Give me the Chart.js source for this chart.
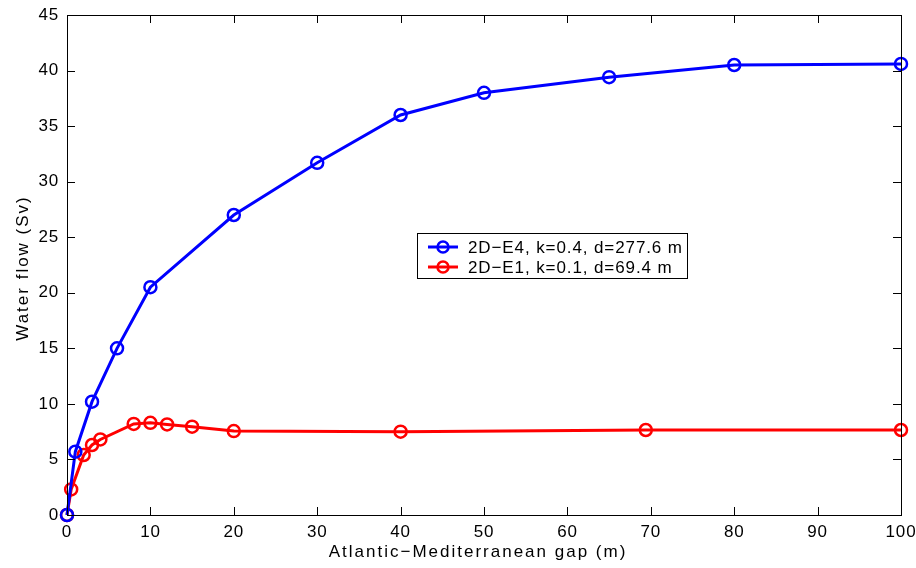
<!DOCTYPE html>
<html>
<head>
<meta charset="utf-8">
<script src="https://cdn.jsdelivr.net/npm/chart.js@4/dist/chart.umd.min.js"></script>
<style>
  html, body { margin: 0; padding: 0; background: #fff; }
  #wrap { width: 916px; height: 568px; }
</style>
</head>
<body>
<div id="wrap"><canvas id="grafico"></canvas></div>
<script>
// dados
const gapE4 = [0, 1, 3, 6, 10, 20, 30, 40, 50, 65, 80, 100];
const fluxoE4 = [0, 5.7, 10.2, 15, 20.5, 27, 31.7, 36, 38, 39.4, 40.5, 40.6];
const gapE1 = [0, 0.5, 2, 3, 4, 8, 10, 12, 15, 20, 40, 69.4, 100];
const fluxoE1 = [0, 2.3, 5.4, 6.3, 6.8, 8.2, 8.3, 8.15, 7.95, 7.55, 7.5, 7.65, 7.65];
const rotuloE4 = "2D\u2212E4, k=0.4, d=277.6 m";
const rotuloE1 = "2D\u2212E1, k=0.1, d=69.4 m";
const tituloX = "Atlantic\u2212Mediterranean gap (m)";
const tituloY = "Water flow (Sv)";

const AZUL = "#0000ff";
const VERMELHO = "#ff0000";
const FONTE = "'Liberation Sans', Arial, Helvetica, sans-serif";

function pontos(xs, ys) {
    return xs.map((x, i) => ({ x, y: ys[i] }));
}

// espaçamento das letras (o original é mais "aberto")
const espacoPlugin = {
    id: "espaco",
    beforeDraw(chart) {
        chart.ctx.letterSpacing = "0.8px";
    }
};

// caixa + ticks para dentro, estilo matlab
const caixaPlugin = {
    id: "caixa",
    afterDraw(chart) {
        const { ctx, chartArea: a, scales } = chart;
        ctx.save();
        ctx.strokeStyle = "#000";
        ctx.lineWidth = 1;
        ctx.strokeRect(a.left + 0.5, a.top + 0.5, a.right - a.left, a.bottom - a.top);
        const L = 8;
        ctx.beginPath();
        scales.x.ticks.forEach(t => {
            const px = Math.round(scales.x.getPixelForValue(t.value)) + 0.5;
            ctx.moveTo(px, a.bottom); ctx.lineTo(px, a.bottom - L);
            ctx.moveTo(px, a.top); ctx.lineTo(px, a.top + L);
        });
        scales.y.ticks.forEach(t => {
            const py = Math.round(scales.y.getPixelForValue(t.value)) + 0.5;
            ctx.moveTo(a.left, py); ctx.lineTo(a.left + L, py);
            ctx.moveTo(a.right, py); ctx.lineTo(a.right - L, py);
        });
        ctx.stroke();

        // títulos dos eixos
        ctx.fillStyle = "#000";
        ctx.font = "17px " + FONTE;
        ctx.letterSpacing = "2px";
        ctx.textAlign = "center";
        ctx.textBaseline = "alphabetic";
        ctx.fillText(tituloX, (a.left + a.right) / 2 - 6, 557);
        ctx.translate(28, (a.top + a.bottom) / 2 + 3);
        ctx.rotate(-Math.PI / 2);
        ctx.fillText(tituloY, 0, 0);
        ctx.restore();
    }
};

// legenda dentro do gráfico
const legendaPlugin = {
    id: "legendaInterna",
    afterDraw(chart) {
        const { ctx } = chart;
        const x0 = 417, y0 = 233, w = 270, h = 45;
        ctx.save();
        ctx.fillStyle = "#fff";
        ctx.fillRect(x0, y0, w, h);
        ctx.strokeStyle = "#000";
        ctx.lineWidth = 1;
        ctx.strokeRect(x0 + 0.5, y0 + 0.5, w, h);
        const itens = [[rotuloE4, AZUL, 247], [rotuloE1, VERMELHO, 267]];
        ctx.font = "17px " + FONTE;
        ctx.letterSpacing = "0.9px";
        ctx.textBaseline = "middle";
        itens.forEach(([txt, cor, y]) => {
            ctx.strokeStyle = cor;
            ctx.lineWidth = 3;
            ctx.beginPath();
            ctx.moveTo(428, y); ctx.lineTo(458, y);
            ctx.stroke();
            ctx.lineWidth = 2.5;
            ctx.beginPath();
            ctx.arc(443, y, 5.5, 0, Math.PI * 2);
            ctx.stroke();
            ctx.fillStyle = "#000";
            ctx.fillText(txt, 468, y + 1);
        });
        ctx.restore();
    }
};

new Chart(document.getElementById("grafico"), {
    type: "line",
    data: {
        datasets: [
            {
                label: rotuloE4,
                data: pontos(gapE4, fluxoE4),
                borderColor: AZUL,
                backgroundColor: "rgba(0,0,0,0)",
                borderWidth: 3,
                pointRadius: 6,
                pointBorderWidth: 2.5,
                pointBackgroundColor: "rgba(0,0,0,0)",
                pointBorderColor: AZUL,
                tension: 0
            },
            {
                label: rotuloE1,
                data: pontos(gapE1, fluxoE1),
                borderColor: VERMELHO,
                backgroundColor: "rgba(0,0,0,0)",
                borderWidth: 3,
                pointRadius: 6,
                pointBorderWidth: 2.5,
                pointBackgroundColor: "rgba(0,0,0,0)",
                pointBorderColor: VERMELHO,
                tension: 0
            }
        ]
    },
    options: {
        responsive: true,
        maintainAspectRatio: false,
        animation: false,
        clip: false,
        layout: { padding: { top: 15, right: 15, left: 0, bottom: 0 } },
        plugins: {
            legend: { display: false },
            tooltip: { enabled: false }
        },
        scales: {
            x: {
                type: "linear",
                min: 0, max: 100,
                ticks: { stepSize: 10, color: "#000", font: { size: 17, family: FONTE }, padding: 7, maxRotation: 0 },
                grid: { display: true, drawOnChartArea: false, drawTicks: false },
                border: { display: false },
                afterFit: s => { s.height = 53; s.paddingLeft = 0; s.paddingRight = 0; }
            },
            y: {
                type: "linear",
                min: 0, max: 45,
                ticks: { stepSize: 5, color: "#000", font: { size: 17, family: FONTE }, padding: 8 },
                grid: { display: true, drawOnChartArea: false, drawTicks: false },
                border: { display: false },
                afterFit: s => { s.width = 67; s.paddingTop = 0; s.paddingBottom = 0; }
            }
        }
    },
    plugins: [espacoPlugin, caixaPlugin, legendaPlugin]
});
</script>
</body>
</html>
